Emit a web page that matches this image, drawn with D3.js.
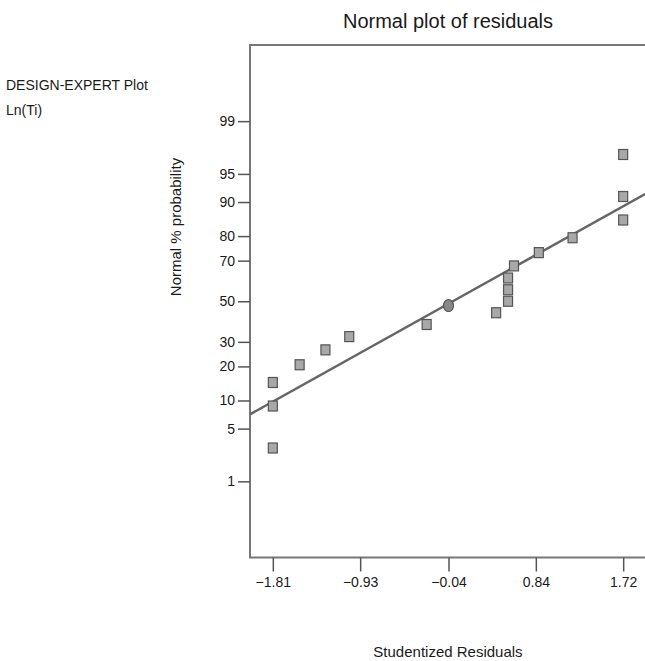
<!DOCTYPE html>
<html>
  <head>
    <meta charset="UTF-8" />
    <script src="https://d3js.org/d3.v7.min.js"></script>
    <style>
      body { margin: 0; background: #fff; }
      text { font-family: "Liberation Sans", Arial, sans-serif; fill: #1a1a1a; }
    </style>
  </head>
  <body>
    <svg width="645" height="661"></svg>

    <script>
      // studentized residuals (sorted) and their normal % probability
      const residuals = [-1.81, -1.81, -1.81, -1.54, -1.28, -1.04, -0.26, 0.44, 0.56, 0.56, 0.56, 0.62, 0.87, 1.21, 1.72, 1.72, 1.72];
      const probs = [2.9, 8.8, 14.7, 20.6, 26.5, 32.4, 38.2, 44.1, 50, 55.9, 61.8, 67.6, 73.5, 79.4, 85.3, 91.2, 97.1];
      // round marker
      const circleRes = [-0.04];
      const circleProb = [47.8];
      // fitted line end points
      const lineRes = [-2.04, 1.95];
      const lineProb = [7.2, 91.8];

      const xTicks = [-1.81, -0.93, -0.04, 0.84, 1.72];
      const yTicks = [1, 5, 10, 20, 30, 50, 70, 80, 90, 95, 99];

      const svg = d3.select("svg");

      // inverse normal cdf (Acklam)
      function probit(p) {
        const a = [-39.69683028665376, 220.9460984245205, -275.9285104469687, 138.357751867269, -30.66479806614716, 2.506628277459239];
        const b = [-54.47609879822406, 161.5858368580409, -155.6989798598866, 66.80131188771972, -13.28068155288572];
        const c = [-0.007784894002430293, -0.3223964580411365, -2.400758277161838, -2.549732539343734, 4.374664141464968, 2.938163982698783];
        const d = [0.007784695709041462, 0.3224671290700398, 2.445134137142996, 3.754408661907416];
        const pl = 0.02425;
        let q, r;
        if (p < pl) {
          q = Math.sqrt(-2 * Math.log(p));
          return (((((c[0] * q + c[1]) * q + c[2]) * q + c[3]) * q + c[4]) * q + c[5]) / ((((d[0] * q + d[1]) * q + d[2]) * q + d[3]) * q + 1);
        } else if (p <= 1 - pl) {
          q = p - 0.5; r = q * q;
          return (((((a[0] * r + a[1]) * r + a[2]) * r + a[3]) * r + a[4]) * r + a[5]) * q / (((((b[0] * r + b[1]) * r + b[2]) * r + b[3]) * r + b[4]) * r + 1);
        }
        q = Math.sqrt(-2 * Math.log(1 - p));
        return -(((((c[0] * q + c[1]) * q + c[2]) * q + c[3]) * q + c[4]) * q + c[5]) / ((((d[0] * q + d[1]) * q + d[2]) * q + d[3]) * q + 1);
      }

      const pLeft = 250, pRight = 646, pTop = 45, pBottom = 557.5;

      const xScale = d3.scaleLinear().domain([-2.04, 1.95]).range([pLeft, pRight]);
      const zScale = d3.scaleLinear().domain([-3.31, 3.31]).range([pBottom, pTop]);
      const yScale = (p) => zScale(probit(p / 100));

      // frame
      svg.append("rect")
        .attr("x", pLeft).attr("y", pTop)
        .attr("width", pRight - pLeft).attr("height", pBottom - pTop)
        .attr("fill", "none").attr("stroke", "#777").attr("stroke-width", 2);

      // axes
      const xAxis = d3.axisBottom(xScale).tickValues(xTicks).tickSize(14).tickSizeOuter(0)
        .tickFormat(d3.format(".2f")).tickPadding(6);
      const xg = svg.append("g").attr("transform", `translate(0,${pBottom})`).call(xAxis);
      xg.select(".domain").remove();
      xg.selectAll("line").attr("stroke", "#555").attr("stroke-width", 1.5);
      xg.selectAll("text").attr("font-size", 14).attr("font-family", "Liberation Sans, Arial, sans-serif").attr("fill", "#1a1a1a");

      const yAxis = d3.axisLeft(zScale).tickValues(yTicks.map(p => probit(p / 100)))
        .tickFormat((z, i) => yTicks[i]).tickSize(12).tickSizeOuter(0).tickPadding(3);
      const yg = svg.append("g").attr("transform", `translate(${pLeft},0)`).call(yAxis);
      yg.select(".domain").remove();
      yg.selectAll("line").attr("stroke", "#555").attr("stroke-width", 1.5);
      yg.selectAll("text").attr("font-size", 14).attr("font-family", "Liberation Sans, Arial, sans-serif").attr("fill", "#1a1a1a");

      // fitted line
      const lineData = lineRes.map((r, i) => ({ x: r, p: lineProb[i] }));
      svg.append("path")
        .datum(lineData)
        .attr("d", d3.line().x(d => xScale(d.x)).y(d => yScale(d.p)))
        .attr("stroke", "#666").attr("stroke-width", 2.5).attr("fill", "none");

      // points
      const pts = residuals.map((r, i) => ({ x: r, p: probs[i] }));
      svg.selectAll("rect.pt")
        .data(pts)
        .enter()
        .append("rect")
        .attr("class", "pt")
        .attr("x", d => xScale(d.x) - 4.5)
        .attr("y", d => yScale(d.p) - 5)
        .attr("width", 9).attr("height", 10)
        .attr("fill", "#a8a8a8").attr("stroke", "#555").attr("stroke-width", 1.2);

      const circ = circleRes.map((r, i) => ({ x: r, p: circleProb[i] }));
      svg.selectAll("ellipse.pt")
        .data(circ)
        .enter()
        .append("ellipse")
        .attr("cx", d => xScale(d.x))
        .attr("cy", d => yScale(d.p))
        .attr("rx", 5).attr("ry", 6)
        .attr("fill", "#888").attr("stroke", "#555").attr("stroke-width", 1.2);

      // texts
      svg.append("text").attr("x", 448).attr("y", 28).attr("text-anchor", "middle")
        .attr("font-size", 20).text("Normal plot of residuals");
      svg.append("text").attr("x", 6).attr("y", 90).attr("font-size", 14).text("DESIGN-EXPERT Plot");
      svg.append("text").attr("x", 6).attr("y", 115).attr("font-size", 14).text("Ln(Ti)");
      svg.append("text")
        .attr("transform", "translate(181,227) rotate(-90)")
        .attr("text-anchor", "middle").attr("font-size", 15).text("Normal % probability");
      svg.append("text").attr("x", 448).attr("y", 657).attr("text-anchor", "middle")
        .attr("font-size", 15).text("Studentized Residuals");
    </script>
  </body>
</html>
